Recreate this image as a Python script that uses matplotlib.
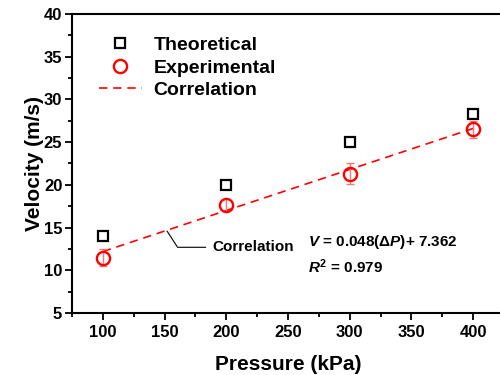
import matplotlib
matplotlib.use("Agg")
import matplotlib.pyplot as plt
from matplotlib.ticker import MultipleLocator

plt.rcParams['font.family'] = ['Liberation Sans', 'DejaVu Sans']
plt.rcParams['font.weight'] = 'bold'
plt.rcParams['mathtext.fontset'] = 'custom'
plt.rcParams['mathtext.it'] = 'Liberation Sans:italic:bold'
plt.rcParams['mathtext.rm'] = 'Liberation Sans:bold'
plt.rcParams['mathtext.bf'] = 'Liberation Sans:bold'

# values
pressure = [100, 200, 300, 400]
theoretical = [14.0, 20.0, 25.0, 28.3]
experimental = [11.5, 17.7, 21.3, 26.5]
exp_err = [1.0, 0.7, 1.2, 1.0]
corr_x = [100, 400]
corr_y = [12.2, 26.6]

fig = plt.figure(figsize=(5, 3.75), dpi=100)
ax = fig.add_axes([0.144, 0.165, 0.864, 0.798])

ax.plot(corr_x, corr_y, color='red', lw=1.2, dashes=(5, 3.5), label='Correlation', zorder=2)
ax.plot(pressure, theoretical, 's', ms=7.5, mfc='none', mec='black', mew=1.6,
        label='Theoretical', zorder=3)
ax.errorbar(pressure, experimental, yerr=exp_err, fmt='none', ecolor='#f07878',
            elinewidth=1, capsize=3, zorder=3)
ax.plot(pressure, experimental, 'o', ms=9.5, mfc='none', mec='red', mew=1.7,
        label='Experimental', zorder=4)

ax.set_xlim(75, 425)
ax.set_ylim(5, 40)
ax.xaxis.set_major_locator(MultipleLocator(50))
ax.xaxis.set_minor_locator(MultipleLocator(25))
ax.yaxis.set_major_locator(MultipleLocator(5))
ax.yaxis.set_minor_locator(MultipleLocator(2.5))
ax.tick_params(which='major', direction='out', length=5, width=1.3, labelsize=12, pad=2)
ax.tick_params(axis='x', which='major', pad=3.5)
ax.tick_params(which='minor', direction='out', length=3, width=1.3)
for s in ax.spines.values():
    s.set_linewidth(1.5)

ax.set_xlabel('Pressure (kPa)', fontsize=15, fontweight='bold', labelpad=11)
ax.set_ylabel('Velocity (m/s)', fontsize=15, fontweight='bold', labelpad=0)

h, l = ax.get_legend_handles_labels()
order = [l.index('Theoretical'), l.index('Experimental'), l.index('Correlation')]
ax.legend([h[i] for i in order], [l[i] for i in order], loc='upper left',
          bbox_to_anchor=(0.0625, 0.925), frameon=False, fontsize=14, borderpad=0,
          borderaxespad=0, handlelength=2.2, labelspacing=0.26, handletextpad=0.6)

ax.annotate('Correlation', xy=(152, 14.6), xytext=(189, 12.7), fontsize=11,
            va='center', ha='left',
            arrowprops=dict(arrowstyle='-', color='black', lw=0.8, shrinkA=3, shrinkB=0,
                            relpos=(0, 0.5),
                            connectionstyle='angle,angleA=0,angleB=-57,rad=0'))
ax.text(266, 13.3, r'$V$ = 0.048($\mathit{\Delta P}$)+ 7.362', fontsize=11, va='center')
ax.text(266, 10.4, r'$R^{\mathrm{2}}$ = 0.979', fontsize=11, va='center')

fig.savefig('out.png', dpi=100)
